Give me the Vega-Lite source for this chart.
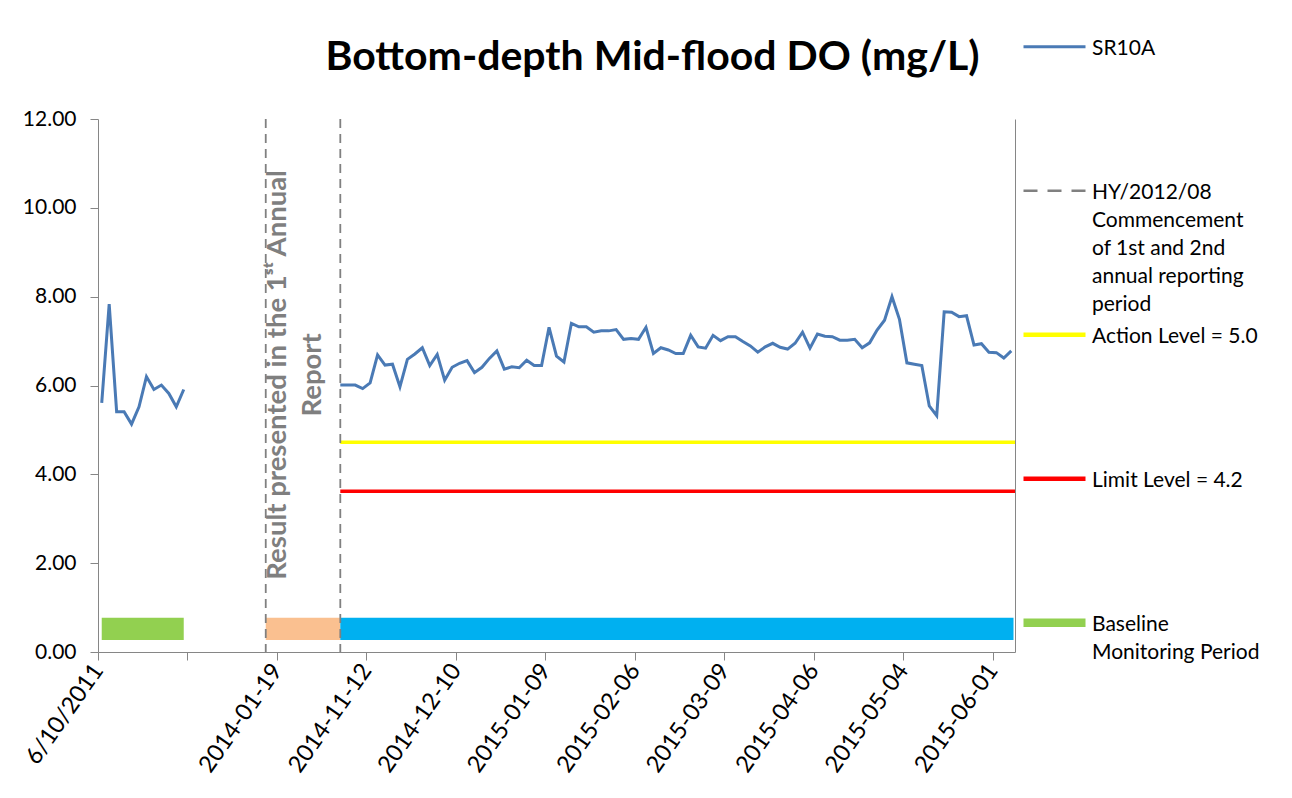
{
  "$schema": "https://vega.github.io/schema/vega-lite/v6.json",
  "width": 917,
  "height": 533,
  "autosize": {"type": "none"},
  "padding": {"left": 98, "top": 119, "right": 277, "bottom": 146},
  "background": "white",
  "title": {
    "text": "Bottom-depth Mid-flood DO (mg/L)",
    "font": "Lato",
    "fontSize": 41,
    "fontWeight": "bold",
    "color": "#000000",
    "anchor": "middle",
    "frame": "group",
    "dx": 96,
    "offset": -52
  },
  "config": {
    "view": {"stroke": null},
    "style": {"guide-label": {"lineHeight": 28.1}},
    "legend": {
      "labelFont": "Lato",
      "labelFontSize": 21,
      "labelColor": "#000000",
      "labelBaseline": "top",
      "labelOffset": 27,
      "symbolOffset": 21,
      "rowPadding": 0,
      "padding": 0,
      "symbolSize": 100,
      "symbolStrokeWidth": 0,
      "labelLimit": 400
    }
  },
  "datasets": {
    "sr10a": [
      {"i": 0, "v": 5.61, "seg": "baseline"},
      {"i": 1, "v": 7.83, "seg": "baseline"},
      {"i": 2, "v": 5.41, "seg": "baseline"},
      {"i": 3, "v": 5.41, "seg": "baseline"},
      {"i": 4, "v": 5.13, "seg": "baseline"},
      {"i": 5, "v": 5.52, "seg": "baseline"},
      {"i": 6, "v": 6.20, "seg": "baseline"},
      {"i": 7, "v": 5.91, "seg": "baseline"},
      {"i": 8, "v": 6.01, "seg": "baseline"},
      {"i": 9, "v": 5.82, "seg": "baseline"},
      {"i": 10, "v": 5.52, "seg": "baseline"},
      {"i": 11, "v": 5.91, "seg": "baseline"},
      {"i": 32, "v": 6.01, "seg": "impact"},
      {"i": 33, "v": 6.01, "seg": "impact"},
      {"i": 34, "v": 6.01, "seg": "impact"},
      {"i": 35, "v": 5.93, "seg": "impact"},
      {"i": 36, "v": 6.06, "seg": "impact"},
      {"i": 37, "v": 6.69, "seg": "impact"},
      {"i": 38, "v": 6.46, "seg": "impact"},
      {"i": 39, "v": 6.48, "seg": "impact"},
      {"i": 40, "v": 5.97, "seg": "impact"},
      {"i": 41, "v": 6.59, "seg": "impact"},
      {"i": 42, "v": 6.71, "seg": "impact"},
      {"i": 43, "v": 6.85, "seg": "impact"},
      {"i": 44, "v": 6.45, "seg": "impact"},
      {"i": 45, "v": 6.70, "seg": "impact"},
      {"i": 46, "v": 6.12, "seg": "impact"},
      {"i": 47, "v": 6.41, "seg": "impact"},
      {"i": 48, "v": 6.50, "seg": "impact"},
      {"i": 49, "v": 6.56, "seg": "impact"},
      {"i": 50, "v": 6.29, "seg": "impact"},
      {"i": 51, "v": 6.41, "seg": "impact"},
      {"i": 52, "v": 6.61, "seg": "impact"},
      {"i": 53, "v": 6.78, "seg": "impact"},
      {"i": 54, "v": 6.37, "seg": "impact"},
      {"i": 55, "v": 6.42, "seg": "impact"},
      {"i": 56, "v": 6.40, "seg": "impact"},
      {"i": 57, "v": 6.57, "seg": "impact"},
      {"i": 58, "v": 6.45, "seg": "impact"},
      {"i": 59, "v": 6.45, "seg": "impact"},
      {"i": 60, "v": 7.31, "seg": "impact"},
      {"i": 61, "v": 6.66, "seg": "impact"},
      {"i": 62, "v": 6.53, "seg": "impact"},
      {"i": 63, "v": 7.40, "seg": "impact"},
      {"i": 64, "v": 7.32, "seg": "impact"},
      {"i": 65, "v": 7.32, "seg": "impact"},
      {"i": 66, "v": 7.20, "seg": "impact"},
      {"i": 67, "v": 7.23, "seg": "impact"},
      {"i": 68, "v": 7.23, "seg": "impact"},
      {"i": 69, "v": 7.26, "seg": "impact"},
      {"i": 70, "v": 7.04, "seg": "impact"},
      {"i": 71, "v": 7.06, "seg": "impact"},
      {"i": 72, "v": 7.04, "seg": "impact"},
      {"i": 73, "v": 7.31, "seg": "impact"},
      {"i": 74, "v": 6.72, "seg": "impact"},
      {"i": 75, "v": 6.85, "seg": "impact"},
      {"i": 76, "v": 6.80, "seg": "impact"},
      {"i": 77, "v": 6.72, "seg": "impact"},
      {"i": 78, "v": 6.72, "seg": "impact"},
      {"i": 79, "v": 7.13, "seg": "impact"},
      {"i": 80, "v": 6.87, "seg": "impact"},
      {"i": 81, "v": 6.84, "seg": "impact"},
      {"i": 82, "v": 7.13, "seg": "impact"},
      {"i": 83, "v": 7.01, "seg": "impact"},
      {"i": 84, "v": 7.10, "seg": "impact"},
      {"i": 85, "v": 7.10, "seg": "impact"},
      {"i": 86, "v": 6.99, "seg": "impact"},
      {"i": 87, "v": 6.89, "seg": "impact"},
      {"i": 88, "v": 6.75, "seg": "impact"},
      {"i": 89, "v": 6.87, "seg": "impact"},
      {"i": 90, "v": 6.95, "seg": "impact"},
      {"i": 91, "v": 6.86, "seg": "impact"},
      {"i": 92, "v": 6.82, "seg": "impact"},
      {"i": 93, "v": 6.95, "seg": "impact"},
      {"i": 94, "v": 7.20, "seg": "impact"},
      {"i": 95, "v": 6.84, "seg": "impact"},
      {"i": 96, "v": 7.16, "seg": "impact"},
      {"i": 97, "v": 7.11, "seg": "impact"},
      {"i": 98, "v": 7.10, "seg": "impact"},
      {"i": 99, "v": 7.02, "seg": "impact"},
      {"i": 100, "v": 7.02, "seg": "impact"},
      {"i": 101, "v": 7.04, "seg": "impact"},
      {"i": 102, "v": 6.85, "seg": "impact"},
      {"i": 103, "v": 6.96, "seg": "impact"},
      {"i": 104, "v": 7.25, "seg": "impact"},
      {"i": 105, "v": 7.47, "seg": "impact"},
      {"i": 106, "v": 8.00, "seg": "impact"},
      {"i": 107, "v": 7.49, "seg": "impact"},
      {"i": 108, "v": 6.51, "seg": "impact"},
      {"i": 109, "v": 6.48, "seg": "impact"},
      {"i": 110, "v": 6.45, "seg": "impact"},
      {"i": 111, "v": 5.54, "seg": "impact"},
      {"i": 112, "v": 5.32, "seg": "impact"},
      {"i": 113, "v": 7.66, "seg": "impact"},
      {"i": 114, "v": 7.65, "seg": "impact"},
      {"i": 115, "v": 7.55, "seg": "impact"},
      {"i": 116, "v": 7.57, "seg": "impact"},
      {"i": 117, "v": 6.91, "seg": "impact"},
      {"i": 118, "v": 6.94, "seg": "impact"},
      {"i": 119, "v": 6.75, "seg": "impact"},
      {"i": 120, "v": 6.74, "seg": "impact"},
      {"i": 121, "v": 6.62, "seg": "impact"},
      {"i": 122, "v": 6.78, "seg": "impact"}
    ],
    "periods": [
      {"period": "Baseline Monitoring Period", "start": 0, "end": 11},
      {"period": "1st Annual Report", "start": 22, "end": 32},
      {"period": "2nd Annual Report", "start": 32, "end": 122.3}
    ],
    "levels": [
      {"series": "Action Level = 5.0", "level": 4.72, "from": 32, "to": 122.5},
      {"series": "Limit Level = 4.2", "level": 3.62, "from": 32, "to": 122.5}
    ],
    "markers": [
      {"event": "HY/2012/08 Commencement of 1st annual reporting period", "at": 22},
      {"event": "HY/2012/08 Commencement of 2nd annual reporting period", "at": 32}
    ],
    "legendItems": [
      {"series": "SR10A"},
      {"series": "HY/2012/08 Commencement of 1st and 2nd annual reporting period"},
      {"series": "Action Level = 5.0"},
      {"series": "Limit Level = 4.2"},
      {"series": "Baseline Monitoring Period"}
    ]
  },
  "layer": [
    {
      "data": {"name": "periods"},
      "mark": {"type": "rect"},
      "encoding": {
        "x": {"field": "start", "type": "quantitative", "title": null, "scale": {"domain": [-0.5, 122.5], "nice": false, "zero": false}},
        "x2": {"field": "end"},
        "y": {"datum": 0.27, "type": "quantitative", "title": null, "scale": {"domain": [0, 12], "nice": false, "zero": false}, "axis": null},
        "y2": {"datum": 0.77},
        "fill": {
          "field": "period", "type": "nominal", "legend": null,
          "scale": {"domain": ["Baseline Monitoring Period", "1st Annual Report", "2nd Annual Report"], "range": ["#92D050", "#FAC090", "#00B0F0"]}
        }
      }
    },
    {
      "data": {"values": [{"note": "Result presented in the 1st Annual Report"}]},
      "mark": {
        "type": "text",
        "text": ["Result presented in the 1ˢᵗ Annual", "Report"],
        "angle": 270,
        "align": "center",
        "baseline": "middle",
        "font": "Lato",
        "fontSize": 27.5,
        "fontWeight": "bold",
        "color": "#7F7F7F",
        "lineHeight": 35
      },
      "encoding": {
        "x": {"datum": 23.6, "type": "quantitative", "title": null, "scale": {"domain": [-0.5, 122.5], "nice": false, "zero": false}},
        "y": {"datum": 6.24, "type": "quantitative", "title": null, "scale": {"domain": [0, 12], "nice": false, "zero": false}, "axis": null}
      }
    },
    {
      "data": {"name": "levels"},
      "mark": {"type": "rule", "strokeWidth": 3.5},
      "encoding": {
        "x": {"field": "from", "type": "quantitative", "title": null, "scale": {"domain": [-0.5, 122.5], "nice": false, "zero": false}},
        "x2": {"field": "to"},
        "y": {
          "field": "level", "type": "quantitative", "title": null,
          "scale": {"domain": [0, 12], "nice": false, "zero": false},
          "axis": {"orient": "right", "labels": false, "ticks": false, "grid": false, "domain": true, "domainColor": "#868686", "title": null}
        },
        "stroke": {
          "field": "series", "type": "nominal", "legend": null,
          "scale": {"domain": ["Action Level = 5.0", "Limit Level = 4.2"], "range": ["#FFFF00", "#FF0000"]}
        }
      }
    },
    {
      "data": {"name": "markers"},
      "mark": {"type": "rule", "color": "#808080", "strokeWidth": 1.8, "strokeDash": [9, 6]},
      "encoding": {
        "x": {"field": "at", "type": "quantitative", "title": null, "scale": {"domain": [-0.5, 122.5], "nice": false, "zero": false}}
      }
    },
    {
      "data": {"name": "sr10a"},
      "mark": {"type": "line", "color": "#4A7AB5", "strokeWidth": 3},
      "encoding": {
        "x": {
          "field": "i", "type": "quantitative", "title": null,
          "scale": {"domain": [-0.5, 122.5], "nice": false, "zero": false},
          "axis": {
            "values": [-0.5, 11.5, 23.5, 35.5, 47.5, 59.5, 71.5, 83.5, 95.5, 107.5, 119.5],
            "labelExpr": "['6/10/2011','','2014-01-19','2014-11-12','2014-12-10','2015-01-09','2015-02-06','2015-03-09','2015-04-06','2015-05-04','2015-06-01'][round((datum.value + 0.5) / 12)]",
            "labelAngle": -55,
            "labelAlign": "right",
            "labelBaseline": "middle",
            "labelFont": "Lato",
            "labelFontSize": 23.5,
            "labelColor": "#000000",
            "labelPadding": 6,
            "labelFlush": false,
            "labelOverlap": false,
            "tickSize": 8,
            "tickColor": "#868686",
            "domainColor": "#868686",
            "grid": false,
            "title": null
          }
        },
        "y": {
          "field": "v", "type": "quantitative", "title": null,
          "scale": {"domain": [0, 12], "nice": false, "zero": false},
          "axis": {
            "values": [0, 2, 4, 6, 8, 10, 12],
            "format": ".2f",
            "labelFont": "Lato",
            "labelFontSize": 21,
            "labelColor": "#000000",
            "labelPadding": 14,
            "tickSize": 8,
            "tickColor": "#868686",
            "domainColor": "#868686",
            "grid": false,
            "title": null
          }
        },
        "detail": {"field": "seg", "type": "nominal"}
      }
    },
    {
      "data": {"name": "legendItems"},
      "transform": [{"filter": "false"}],
      "mark": {"type": "point", "filled": true, "opacity": 1, "size": 100, "strokeWidth": 0},
      "encoding": {
        "color": {
          "field": "series", "type": "nominal", "title": null,
          "scale": {
            "domain": ["SR10A", "HY/2012/08 Commencement of 1st and 2nd annual reporting period", "Action Level = 5.0", "Limit Level = 4.2", "Baseline Monitoring Period"],
            "range": ["#4A7AB5", "#808080", "#FFFF00", "#FF0000", "#92D050"]
          },
          "legend": {
            "orient": "none", "legendX": 925, "legendY": -92,
            "labelExpr": "datum.label == 'Baseline Monitoring Period' ? ['Baseline', 'Monitoring Period', '', '', ''] : indexof(datum.label, 'HY/') == 0 ? ['HY/2012/08', 'Commencement', 'of 1st and 2nd', 'annual reporting', 'period'] : [datum.label, '', '', '', '']"
          }
        },
        "shape": {
          "field": "series", "type": "nominal", "title": null,
          "scale": {
            "domain": ["SR10A", "HY/2012/08 Commencement of 1st and 2nd annual reporting period", "Action Level = 5.0", "Limit Level = 4.2", "Baseline Monitoring Period"],
            "range": [
              "M-6.2,1.56H6.2V2.16H-6.2Z",
              "M-6.2,1.61H-3.4V2.11H-6.2Z M-1.4,1.61H1.4V2.11H-1.4Z M3.4,1.61H6.2V2.11H3.4Z",
              "M-6.2,1.41H6.2V2.31H-6.2Z",
              "M-6.2,1.41H6.2V2.31H-6.2Z",
              "M-6.2,1.01H6.2V2.71H-6.2Z"
            ]
          },
          "legend": {
            "orient": "none", "legendX": 925, "legendY": -92,
            "labelExpr": "datum.label == 'Baseline Monitoring Period' ? ['Baseline', 'Monitoring Period', '', '', ''] : indexof(datum.label, 'HY/') == 0 ? ['HY/2012/08', 'Commencement', 'of 1st and 2nd', 'annual reporting', 'period'] : [datum.label, '', '', '', '']"
          }
        }
      }
    }
  ],
  "resolve": {"axis": {"y": "independent"}}
}
